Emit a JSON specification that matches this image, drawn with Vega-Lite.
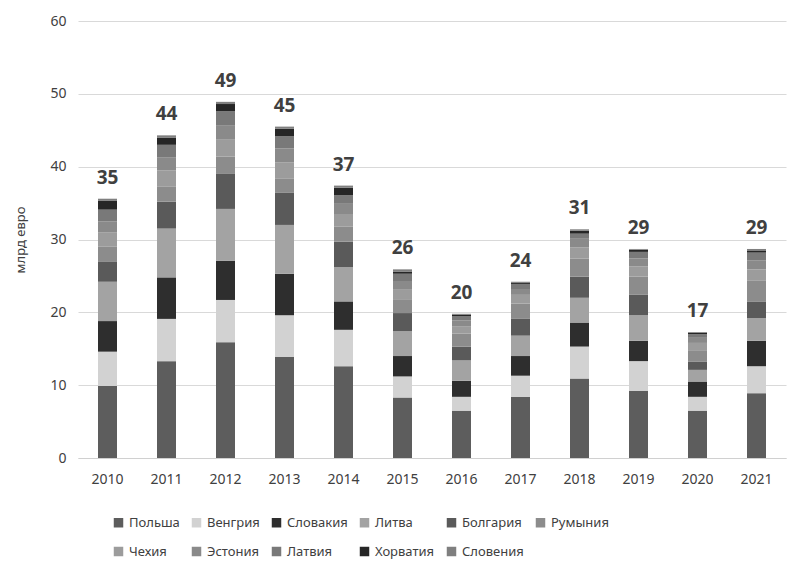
{
  "$schema": "https://vega.github.io/schema/vega-lite/v6.json",
  "width": 708,
  "height": 437,
  "autosize": "none",
  "padding": {"left": 78, "top": 21, "right": 12, "bottom": 106},
  "background": "white",
  "config": {
    "font": "Noto Sans",
    "view": {"stroke": null},
    "axis": {"labelColor": "#404040", "titleColor": "#404040", "labelFontSize": 14, "ticks": false}
  },
  "datasets": {
    "parts": [
      {"year": "2010", "country": "Польша", "value": 9.9},
      {"year": "2010", "country": "Венгрия", "value": 4.7},
      {"year": "2010", "country": "Словакия", "value": 4.2},
      {"year": "2010", "country": "Литва", "value": 5.4},
      {"year": "2010", "country": "Болгария", "value": 2.8},
      {"year": "2010", "country": "Румыния", "value": 2.0},
      {"year": "2010", "country": "Чехия", "value": 2.0},
      {"year": "2010", "country": "Эстония", "value": 1.5},
      {"year": "2010", "country": "Латвия", "value": 1.6},
      {"year": "2010", "country": "Хорватия", "value": 1.2},
      {"year": "2010", "country": "Словения", "value": 0.3},
      {"year": "2011", "country": "Польша", "value": 13.3},
      {"year": "2011", "country": "Венгрия", "value": 5.8},
      {"year": "2011", "country": "Словакия", "value": 5.7},
      {"year": "2011", "country": "Литва", "value": 6.7},
      {"year": "2011", "country": "Болгария", "value": 3.7},
      {"year": "2011", "country": "Румыния", "value": 2.1},
      {"year": "2011", "country": "Чехия", "value": 2.2},
      {"year": "2011", "country": "Эстония", "value": 1.8},
      {"year": "2011", "country": "Латвия", "value": 1.7},
      {"year": "2011", "country": "Хорватия", "value": 1.0},
      {"year": "2011", "country": "Словения", "value": 0.3},
      {"year": "2012", "country": "Польша", "value": 15.9},
      {"year": "2012", "country": "Венгрия", "value": 5.8},
      {"year": "2012", "country": "Словакия", "value": 5.4},
      {"year": "2012", "country": "Литва", "value": 7.1},
      {"year": "2012", "country": "Болгария", "value": 4.8},
      {"year": "2012", "country": "Румыния", "value": 2.4},
      {"year": "2012", "country": "Чехия", "value": 2.3},
      {"year": "2012", "country": "Эстония", "value": 2.0},
      {"year": "2012", "country": "Латвия", "value": 1.9},
      {"year": "2012", "country": "Хорватия", "value": 1.0},
      {"year": "2012", "country": "Словения", "value": 0.3},
      {"year": "2013", "country": "Польша", "value": 13.9},
      {"year": "2013", "country": "Венгрия", "value": 5.7},
      {"year": "2013", "country": "Словакия", "value": 5.7},
      {"year": "2013", "country": "Литва", "value": 6.7},
      {"year": "2013", "country": "Болгария", "value": 4.4},
      {"year": "2013", "country": "Румыния", "value": 2.0},
      {"year": "2013", "country": "Чехия", "value": 2.2},
      {"year": "2013", "country": "Эстония", "value": 1.9},
      {"year": "2013", "country": "Латвия", "value": 1.7},
      {"year": "2013", "country": "Хорватия", "value": 1.0},
      {"year": "2013", "country": "Словения", "value": 0.3},
      {"year": "2014", "country": "Польша", "value": 12.6},
      {"year": "2014", "country": "Венгрия", "value": 5.0},
      {"year": "2014", "country": "Словакия", "value": 3.9},
      {"year": "2014", "country": "Литва", "value": 4.7},
      {"year": "2014", "country": "Болгария", "value": 3.5},
      {"year": "2014", "country": "Румыния", "value": 2.1},
      {"year": "2014", "country": "Чехия", "value": 1.7},
      {"year": "2014", "country": "Эстония", "value": 1.4},
      {"year": "2014", "country": "Латвия", "value": 1.2},
      {"year": "2014", "country": "Хорватия", "value": 1.0},
      {"year": "2014", "country": "Словения", "value": 0.3},
      {"year": "2015", "country": "Польша", "value": 8.3},
      {"year": "2015", "country": "Венгрия", "value": 2.9},
      {"year": "2015", "country": "Словакия", "value": 2.8},
      {"year": "2015", "country": "Литва", "value": 3.4},
      {"year": "2015", "country": "Болгария", "value": 2.5},
      {"year": "2015", "country": "Румыния", "value": 1.8},
      {"year": "2015", "country": "Чехия", "value": 1.4},
      {"year": "2015", "country": "Эстония", "value": 1.2},
      {"year": "2015", "country": "Латвия", "value": 1.0},
      {"year": "2015", "country": "Хорватия", "value": 0.3},
      {"year": "2015", "country": "Словения", "value": 0.3},
      {"year": "2016", "country": "Польша", "value": 6.5},
      {"year": "2016", "country": "Венгрия", "value": 1.9},
      {"year": "2016", "country": "Словакия", "value": 2.2},
      {"year": "2016", "country": "Литва", "value": 2.8},
      {"year": "2016", "country": "Болгария", "value": 1.9},
      {"year": "2016", "country": "Румыния", "value": 1.8},
      {"year": "2016", "country": "Чехия", "value": 1.0},
      {"year": "2016", "country": "Эстония", "value": 0.8},
      {"year": "2016", "country": "Латвия", "value": 0.6},
      {"year": "2016", "country": "Хорватия", "value": 0.2},
      {"year": "2016", "country": "Словения", "value": 0.1},
      {"year": "2017", "country": "Польша", "value": 8.4},
      {"year": "2017", "country": "Венгрия", "value": 2.9},
      {"year": "2017", "country": "Словакия", "value": 2.7},
      {"year": "2017", "country": "Литва", "value": 2.8},
      {"year": "2017", "country": "Болгария", "value": 2.3},
      {"year": "2017", "country": "Румыния", "value": 2.1},
      {"year": "2017", "country": "Чехия", "value": 1.2},
      {"year": "2017", "country": "Эстония", "value": 0.8},
      {"year": "2017", "country": "Латвия", "value": 0.7},
      {"year": "2017", "country": "Хорватия", "value": 0.2},
      {"year": "2017", "country": "Словения", "value": 0.1},
      {"year": "2018", "country": "Польша", "value": 10.9},
      {"year": "2018", "country": "Венгрия", "value": 4.4},
      {"year": "2018", "country": "Словакия", "value": 3.3},
      {"year": "2018", "country": "Литва", "value": 3.4},
      {"year": "2018", "country": "Болгария", "value": 2.9},
      {"year": "2018", "country": "Румыния", "value": 2.5},
      {"year": "2018", "country": "Чехия", "value": 1.5},
      {"year": "2018", "country": "Эстония", "value": 1.2},
      {"year": "2018", "country": "Латвия", "value": 0.7},
      {"year": "2018", "country": "Хорватия", "value": 0.4},
      {"year": "2018", "country": "Словения", "value": 0.2},
      {"year": "2019", "country": "Польша", "value": 9.2},
      {"year": "2019", "country": "Венгрия", "value": 4.1},
      {"year": "2019", "country": "Словакия", "value": 2.8},
      {"year": "2019", "country": "Литва", "value": 3.5},
      {"year": "2019", "country": "Болгария", "value": 2.8},
      {"year": "2019", "country": "Румыния", "value": 2.5},
      {"year": "2019", "country": "Чехия", "value": 1.4},
      {"year": "2019", "country": "Эстония", "value": 1.1},
      {"year": "2019", "country": "Латвия", "value": 0.9},
      {"year": "2019", "country": "Хорватия", "value": 0.3},
      {"year": "2019", "country": "Словения", "value": 0.1},
      {"year": "2020", "country": "Польша", "value": 6.5},
      {"year": "2020", "country": "Венгрия", "value": 1.9},
      {"year": "2020", "country": "Словакия", "value": 2.1},
      {"year": "2020", "country": "Литва", "value": 1.6},
      {"year": "2020", "country": "Болгария", "value": 1.1},
      {"year": "2020", "country": "Румыния", "value": 1.6},
      {"year": "2020", "country": "Чехия", "value": 1.0},
      {"year": "2020", "country": "Эстония", "value": 0.7},
      {"year": "2020", "country": "Латвия", "value": 0.5},
      {"year": "2020", "country": "Хорватия", "value": 0.2},
      {"year": "2020", "country": "Словения", "value": 0.1},
      {"year": "2021", "country": "Польша", "value": 8.9},
      {"year": "2021", "country": "Венгрия", "value": 3.7},
      {"year": "2021", "country": "Словакия", "value": 3.5},
      {"year": "2021", "country": "Литва", "value": 3.1},
      {"year": "2021", "country": "Болгария", "value": 2.3},
      {"year": "2021", "country": "Румыния", "value": 2.9},
      {"year": "2021", "country": "Чехия", "value": 1.5},
      {"year": "2021", "country": "Эстония", "value": 1.2},
      {"year": "2021", "country": "Латвия", "value": 1.1},
      {"year": "2021", "country": "Хорватия", "value": 0.3},
      {"year": "2021", "country": "Словения", "value": 0.2}
    ],
    "totals": [
      {"year": "2010", "top": 35.6, "label": "35"},
      {"year": "2011", "top": 44.3, "label": "44"},
      {"year": "2012", "top": 48.9, "label": "49"},
      {"year": "2013", "top": 45.5, "label": "45"},
      {"year": "2014", "top": 37.4, "label": "37"},
      {"year": "2015", "top": 25.9, "label": "26"},
      {"year": "2016", "top": 19.8, "label": "20"},
      {"year": "2017", "top": 24.2, "label": "24"},
      {"year": "2018", "top": 31.4, "label": "31"},
      {"year": "2019", "top": 28.7, "label": "29"},
      {"year": "2020", "top": 17.3, "label": "17"},
      {"year": "2021", "top": 28.7, "label": "29"}
    ]
  },
  "layer": [
    {
      "data": {"name": "parts"},
      "transform": [
        {"calculate": "indexof(['Польша','Венгрия','Словакия','Литва','Болгария','Румыния','Чехия','Эстония','Латвия','Хорватия','Словения'], datum.country)", "as": "ord"}
      ],
      "mark": {"type": "bar", "width": 19},
      "encoding": {
        "x": {
          "field": "year", "type": "nominal",
          "scale": {"paddingInner": 0.68, "paddingOuter": 0.34},
          "axis": {"title": null, "labelAngle": 0, "labelPadding": 14, "domainColor": "#d0d0d0", "grid": false}
        },
        "y": {
          "field": "value", "type": "quantitative", "aggregate": "sum", "stack": "zero",
          "scale": {"domain": [0, 60]},
          "axis": {"title": "млрд евро", "titleFontSize": 13, "titleFontWeight": "normal", "titlePadding": 22,
                   "values": [0, 10, 20, 30, 40, 50, 60], "domain": false, "gridColor": "#d9d9d9", "labelPadding": 12}
        },
        "color": {
          "field": "country", "type": "nominal",
          "sort": ["Польша","Венгрия","Словакия","Литва","Болгария","Румыния","Чехия","Эстония","Латвия","Хорватия","Словения"],
          "scale": {
            "domain": ["Польша","Венгрия","Словакия","Литва","Болгария","Румыния","Чехия","Эстония","Латвия","Хорватия","Словения"],
            "range": ["#5d5d5d","#d2d2d2","#2e2e2e","#a3a3a3","#5a5a5a","#8c8c8c","#9c9c9c","#8a8a8a","#797979","#262626","#7f7f7f"]
          },
          "legend": {
            "title": null, "orient": "none", "direction": "horizontal", "columns": 6,
            "legendX": 34, "legendY": 495,
            "symbolType": "square", "symbolSize": 90, "symbolStrokeWidth": 0,
            "labelFontSize": 13, "labelColor": "#404040", "labelOffset": 4,
            "columnPadding": 10, "rowPadding": 15
          }
        },
        "order": {"field": "ord", "type": "quantitative", "sort": "ascending"}
      }
    },
    {
      "data": {"name": "totals"},
      "mark": {"type": "text", "baseline": "bottom", "dy": -11, "fontSize": 19, "fontWeight": "bold", "color": "#404040"},
      "encoding": {
        "x": {"field": "year", "type": "nominal"},
        "y": {"field": "top", "type": "quantitative"},
        "text": {"field": "label"}
      }
    }
  ]
}
